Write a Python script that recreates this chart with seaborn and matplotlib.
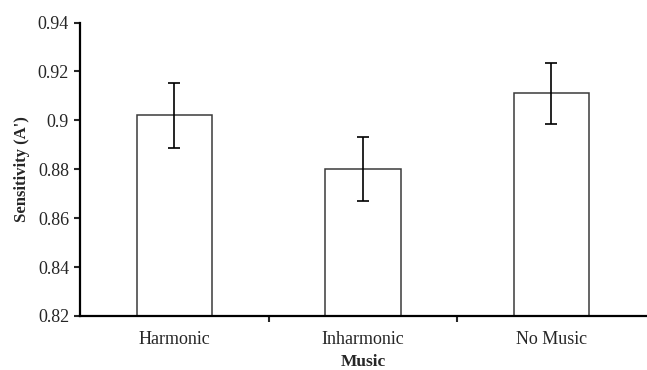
import pandas as pd
import numpy as np
import matplotlib.pyplot as plt
import seaborn as sns

# values
conditions = ["Harmonic", "Inharmonic", "No Music"]
sensitivity = [0.902, 0.880, 0.911]
sem = [0.0133, 0.0130, 0.0124]

df = pd.DataFrame({"Music": conditions, "Sensitivity": sensitivity})

sns.set_style("white")
plt.rcParams['font.family'] = ['Liberation Serif', 'DejaVu Serif']

fig = plt.figure(figsize=(6.47, 3.70), dpi=100)
ax = fig.add_axes([0.124, 0.146, 0.874, 0.793])

sns.barplot(data=df, x="Music", y="Sensitivity", color="white",
            edgecolor="#3a3a3a", linewidth=1.1, width=0.4, errorbar=None, ax=ax)
ax.errorbar(np.arange(len(conditions)), sensitivity, yerr=sem, fmt="none",
            ecolor="black", elinewidth=1.2, capsize=4.5, capthick=1.2)

ax.set_ylim(0.82, 0.94)
ax.set_xlim(-0.5, 2.5)
ax.set_yticks(np.arange(0.82, 0.941, 0.02))
ax.set_yticklabels(["0.82", "0.84", "0.86", "0.88", "0.9", "0.92", "0.94"])

ax.set_xticks([0.5, 1.5], minor=True)
ax.tick_params(axis="x", which="major", length=0, labelsize=13, pad=11)
ax.tick_params(axis="x", which="minor", length=4, width=1.5, direction="out", bottom=True)
ax.tick_params(axis="y", length=4, width=1.5, direction="out", left=True, labelsize=13, pad=4)

ax.set_xlabel("Music", fontsize=12.5, fontweight="bold", labelpad=4)
ax.set_ylabel("Sensitivity (A')", fontsize=12, fontweight="bold", labelpad=6)

sns.despine(ax=ax)
for side in ["left", "bottom"]:
    ax.spines[side].set_color("black")
    ax.spines[side].set_linewidth(1.6)

fig.savefig("out.png", dpi=100)
